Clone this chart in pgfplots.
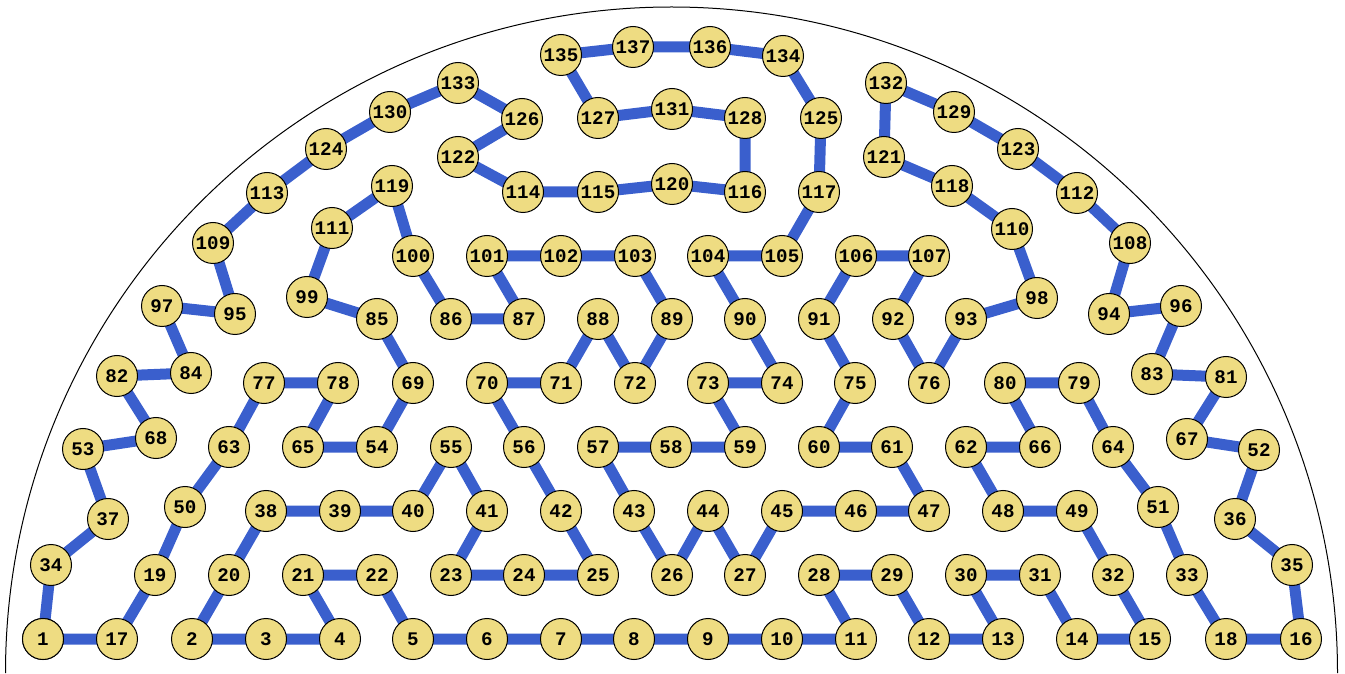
\documentclass[border=0pt]{standalone}
\usepackage{pgfplots}
\pgfplotsset{compat=1.18}
\usepackage{pgfplotstable}
\usepackage{fontspec}
\setmonofont{Liberation Mono}
\definecolor{edgeblue}{RGB}{58,95,205}
\definecolor{nodefill}{RGB}{238,220,130}

% nodes in the order of the cycle (pixel positions, y measured downwards)
\pgfplotstableread{
n x y
1 43 639
17 117 639
19 155 575
50 185 507
63 229 447
77 264 383
78 338 383
65 303 447
54 377 447
69 413 383
85 377 319
99 307 297
111 332 228
119 392 186
100 413 256
86 451 319
87 524 319
101 487 256
102 561 256
103 635 256
89 672 319
72 635 383
88 598 319
71 561 383
70 487 383
56 524 447
42 561 511
25 598 575
24 524 575
23 451 575
41 487 511
55 451 447
40 413 511
39 340 511
38 266 511
20 229 575
2 192 639
3 266 639
4 340 639
21 303 575
22 377 575
5 413 639
6 487 639
7 561 639
8 634 639
9 708 639
10 782 639
11 856 639
28 819 575
29 892 575
12 929 639
13 1003 639
30 966 575
31 1040 575
14 1077 639
15 1150 639
32 1113 575
49 1077 511
48 1003 511
62 966 447
66 1040 447
80 1005 383
79 1079 383
64 1113 447
51 1158 507
33 1187 575
18 1226 639
16 1301 639
35 1292 565
36 1235 519
52 1259 450
67 1187 439
81 1226 377
83 1152 374
96 1181 306
94 1109 314
108 1130 243
112 1077 193
123 1018 149
129 954 112
132 886 83
121 884 157
118 952 186
110 1012 229
98 1037 298
93 966 319
76 929 383
92 893 319
107 929 256
106 856 256
91 819 319
75 855 383
60 819 447
61 892 447
47 929 511
46 856 511
45 782 511
27 745 575
44 708 511
26 672 575
43 634 511
57 598 447
58 671 447
59 745 447
73 708 383
74 782 383
90 745 319
104 708 256
105 782 256
117 819 192
125 821 118
134 783 56
136 710 47
137 633 47
135 561 55
127 598 118
131 672 109
128 745 118
116 745 192
120 672 184
115 598 192
114 523 192
122 458 157
126 522 119
133 458 83
130 390 112
124 326 149
113 267 193
109 213 243
95 235 314
97 162 306
84 191 373
82 117 376
68 156 438
53 83 449
37 108 519
34 51 565
1 43 639
}\cycletab

\begin{document}
\begin{tikzpicture}
\begin{axis}[
    width=672.5pt, height=336.5pt,
    scale only axis,
    xmin=0, xmax=1345,
    ymin=0, ymax=673,
    y dir=reverse,
    hide axis,
    clip=false,
]
\path (rel axis cs:0,0) rectangle (rel axis cs:1,1);
\draw[line width=0.5pt, black] (axis cs:5.5,673) arc[start angle=180, end angle=0, radius=333pt];

\addplot[no markers, line width=5.5pt, color=edgeblue, line join=round]
    table[x=x, y=y] {\cycletab};

\addplot[
    only marks,
    mark=*,
    mark size=10.25pt,
    mark options={fill=nodefill, draw=black, line width=0.5pt},
    point meta=explicit symbolic,
    nodes near coords,
    nodes near coords style={anchor=center, inner sep=0pt,
        font=\ttfamily\bfseries\fontsize{9.6}{9.6}\selectfont},
] table[x=x, y=y, meta=n] {\cycletab};
\end{axis}
\end{tikzpicture}
\end{document}
